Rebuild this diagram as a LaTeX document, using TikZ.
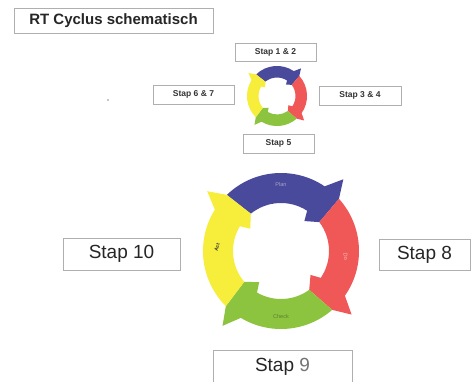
\documentclass[tikz,border=0pt]{standalone}
\usepackage{fontspec}
\setmainfont{Liberation Sans}
\definecolor{planblue}{RGB}{74,74,156}
\definecolor{dored}{RGB}{240,88,88}
\definecolor{checkgreen}{RGB}{140,196,64}
\definecolor{actyellow}{RGB}{246,238,58}
\definecolor{boxline}{RGB}{175,175,175}
\tikzset{
  box/.style={draw=boxline, line width=0.8pt, fill=white, inner sep=0pt},
  bigbox/.style={box, font=\fontsize{19}{22}\selectfont, text=black!85},
  smallbox/.style={box, font=\bfseries\fontsize{8.5}{10}\selectfont, text=black!80},
  titlebox/.style={box, font=\bfseries\fontsize{15}{18}\selectfont, text=black!85},
  ringlabel/.style={font=\fontsize{5.5}{6}\selectfont, inner sep=0pt},
}
% one curved arrow of the cycle ring: colour, barb angle of the previous
% arrow (where this one starts), own barb angle (clockwise from the start)
\newcommand\cycseg[3]{%
  \fill[#1] ({#2-7}:78) arc[start angle={#2-7}, end angle={#3+7}, radius=78]
    -- (#3:95) -- ({#3-7}:78) -- ({#3-12}:48) -- ({#3+3}:38) -- ({#3+8}:48)
    arc[start angle={#3+8}, end angle={#2-12}, radius=48] -- cycle;}
% the full PDCA ring
\newcommand\cycring{%
  \cycseg{planblue}{141}{49}
  \cycseg{dored}{49}{-42}
  \cycseg{checkgreen}{-42}{-128}
  \cycseg{actyellow}{-128}{-219}
}
\begin{document}
\begin{tikzpicture}[x=1pt,y=1pt]
\useasboundingbox[fill=white] (0,0) rectangle (471,381);

% title
\node[titlebox, minimum width=199pt, minimum height=25pt] (title) at (113.5,360.5) {RT Cyclus schematisch};

% small overview cycle
\coordinate (smallc) at (277,285);
\begin{scope}[shift={(smallc)}, scale=0.385]
  \cycring
\end{scope}
\node[smallbox, minimum width=81pt, minimum height=18pt] (s12) at (275.5,329) {Stap 1 \& 2};
\node[smallbox, minimum width=81pt, minimum height=19pt] (s67) at (193.5,286.5) {Stap 6 \& 7};
\node[smallbox, minimum width=82pt, minimum height=19pt] (s34) at (360,285.5) {Stap 3 \& 4};
\node[smallbox, minimum width=71pt, minimum height=19pt] (s5) at (278.5,237.5) {Stap 5};

% stray mark
\fill[black!45] (108,281) circle (0.9pt);

% large cycle
\coordinate (bigc) at (281,130);
\begin{scope}[shift={(bigc)}]
  \cycring
  \node[ringlabel, text=planblue!50!white] (plan) at (90:66) {Plan};
  \node[ringlabel, text=dored!40!white, rotate=-80] (do) at (-5:65) {Do};
  \node[ringlabel, text=checkgreen!65!black] (check) at (-90:66) {Check};
  \node[ringlabel, text=black!80, font=\bfseries\fontsize{5}{6}\selectfont, rotate=75] (act) at (177:64) {Act};
\end{scope}

\node[bigbox, minimum width=117pt, minimum height=32pt] (s10) at (121.5,127) {Stap 10};
\node[bigbox, minimum width=91pt, minimum height=31pt] (s8) at (424.5,126.5) {Stap 8};
\node[bigbox, minimum width=139pt, minimum height=34pt] (s9) at (282.5,14) {Stap {\color{black!55}9}};
\end{tikzpicture}
\end{document}
